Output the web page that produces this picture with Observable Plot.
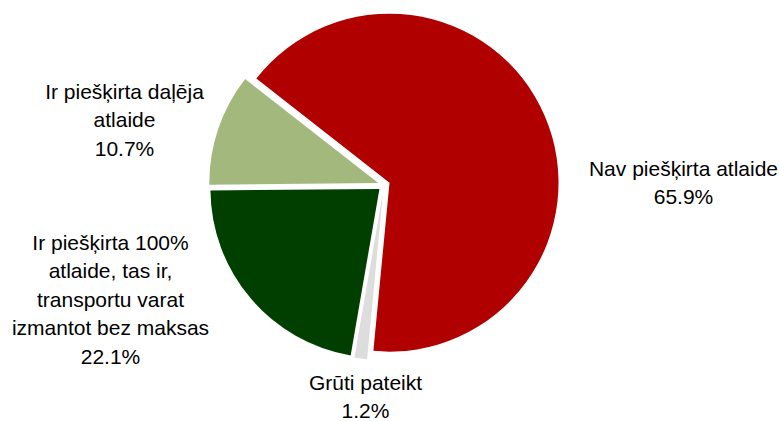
<!DOCTYPE html>
<html>
<head>
<meta charset="utf-8">
<script src="https://cdn.jsdelivr.net/npm/d3@7"></script>
<script src="https://cdn.jsdelivr.net/npm/@observablehq/plot@0.6"></script>
<style>
  html, body { margin: 0; padding: 0; background: #fff; }
  #chart svg { display: block; }
</style>
</head>
<body>
<div id="chart"></div>
<script>
// ---- data ----
const categories = [
  "Nav piešķirta atlaide",
  "Grūti pateikt",
  "Ir piešķirta 100% atlaide, tas ir, transportu varat izmantot bez maksas",
  "Ir piešķirta daļēja atlaide"
];
const values = [65.9, 1.2, 22.1, 10.7];
const labelLines = [
  ["Nav piešķirta atlaide"],
  ["Grūti pateikt"],
  ["Ir piešķirta 100%", "atlaide, tas ir,", "transportu varat", "izmantot bez maksas"],
  ["Ir piešķirta daļēja", "atlaide"]
];
const colors = ["#B00000", "#DDDDDD", "#003F00", "#A3B87C"];

// ---- layout ----
const W = 780, H = 421;
const center = [384, 185];
const radius = 169;
const explode = 6;
const startDeg = -52;
const fontSize = 21;
const labelPos = [[683, 174], [365, 388], [110, 248], [124, 97]]; // first-line baselines

const pie = d3.pie().sort(null).value(d => d.value)
  .startAngle(startDeg * Math.PI / 180)
  .endAngle(startDeg * Math.PI / 180 + 2 * Math.PI);
const slices = pie(categories.map((c, i) => ({category: c, value: values[i], color: colors[i]})));

const labels = categories.map((c, i) => ({
  text: labelLines[i].concat(values[i].toFixed(1) + "%").join("\n"),
  x: labelPos[i][0],
  y: labelPos[i][1] - 0.71 * fontSize - 4
}));

function pieMark(index, scales) {
  const sx = scales.x, sy = scales.y;
  const cx = sx(center[0]), cy = sy(center[1]);
  const r = sx(center[0] + radius) - cx;
  const arc = d3.arc().innerRadius(0).outerRadius(r);
  const g = d3.create("svg:g");
  for (const s of slices) {
    const mid = (s.startAngle + s.endAngle) / 2;
    const dx = Math.sin(mid) * explode, dy = -Math.cos(mid) * explode;
    g.append("path")
      .attr("d", arc(s))
      .attr("fill", s.data.color)
      .attr("transform", `translate(${cx + dx},${cy + dy})`);
  }
  return g.node();
}

const chart = Plot.plot({
  width: W,
  height: H,
  margin: 0,
  x: {domain: [0, W], range: [0, W], axis: null},
  y: {domain: [0, H], range: [0, H], axis: null},
  style: {fontFamily: "'Liberation Sans', Arial, sans-serif", background: "#fff"},
  marks: [
    pieMark,
    Plot.text(labels, {
      x: "x", y: "y", text: "text",
      lineAnchor: "top",
      lineHeight: 1.357,
      textAnchor: "middle",
      fontSize: fontSize,
      fill: "#000"
    })
  ]
});
document.getElementById("chart").appendChild(chart);
</script>
</body>
</html>
